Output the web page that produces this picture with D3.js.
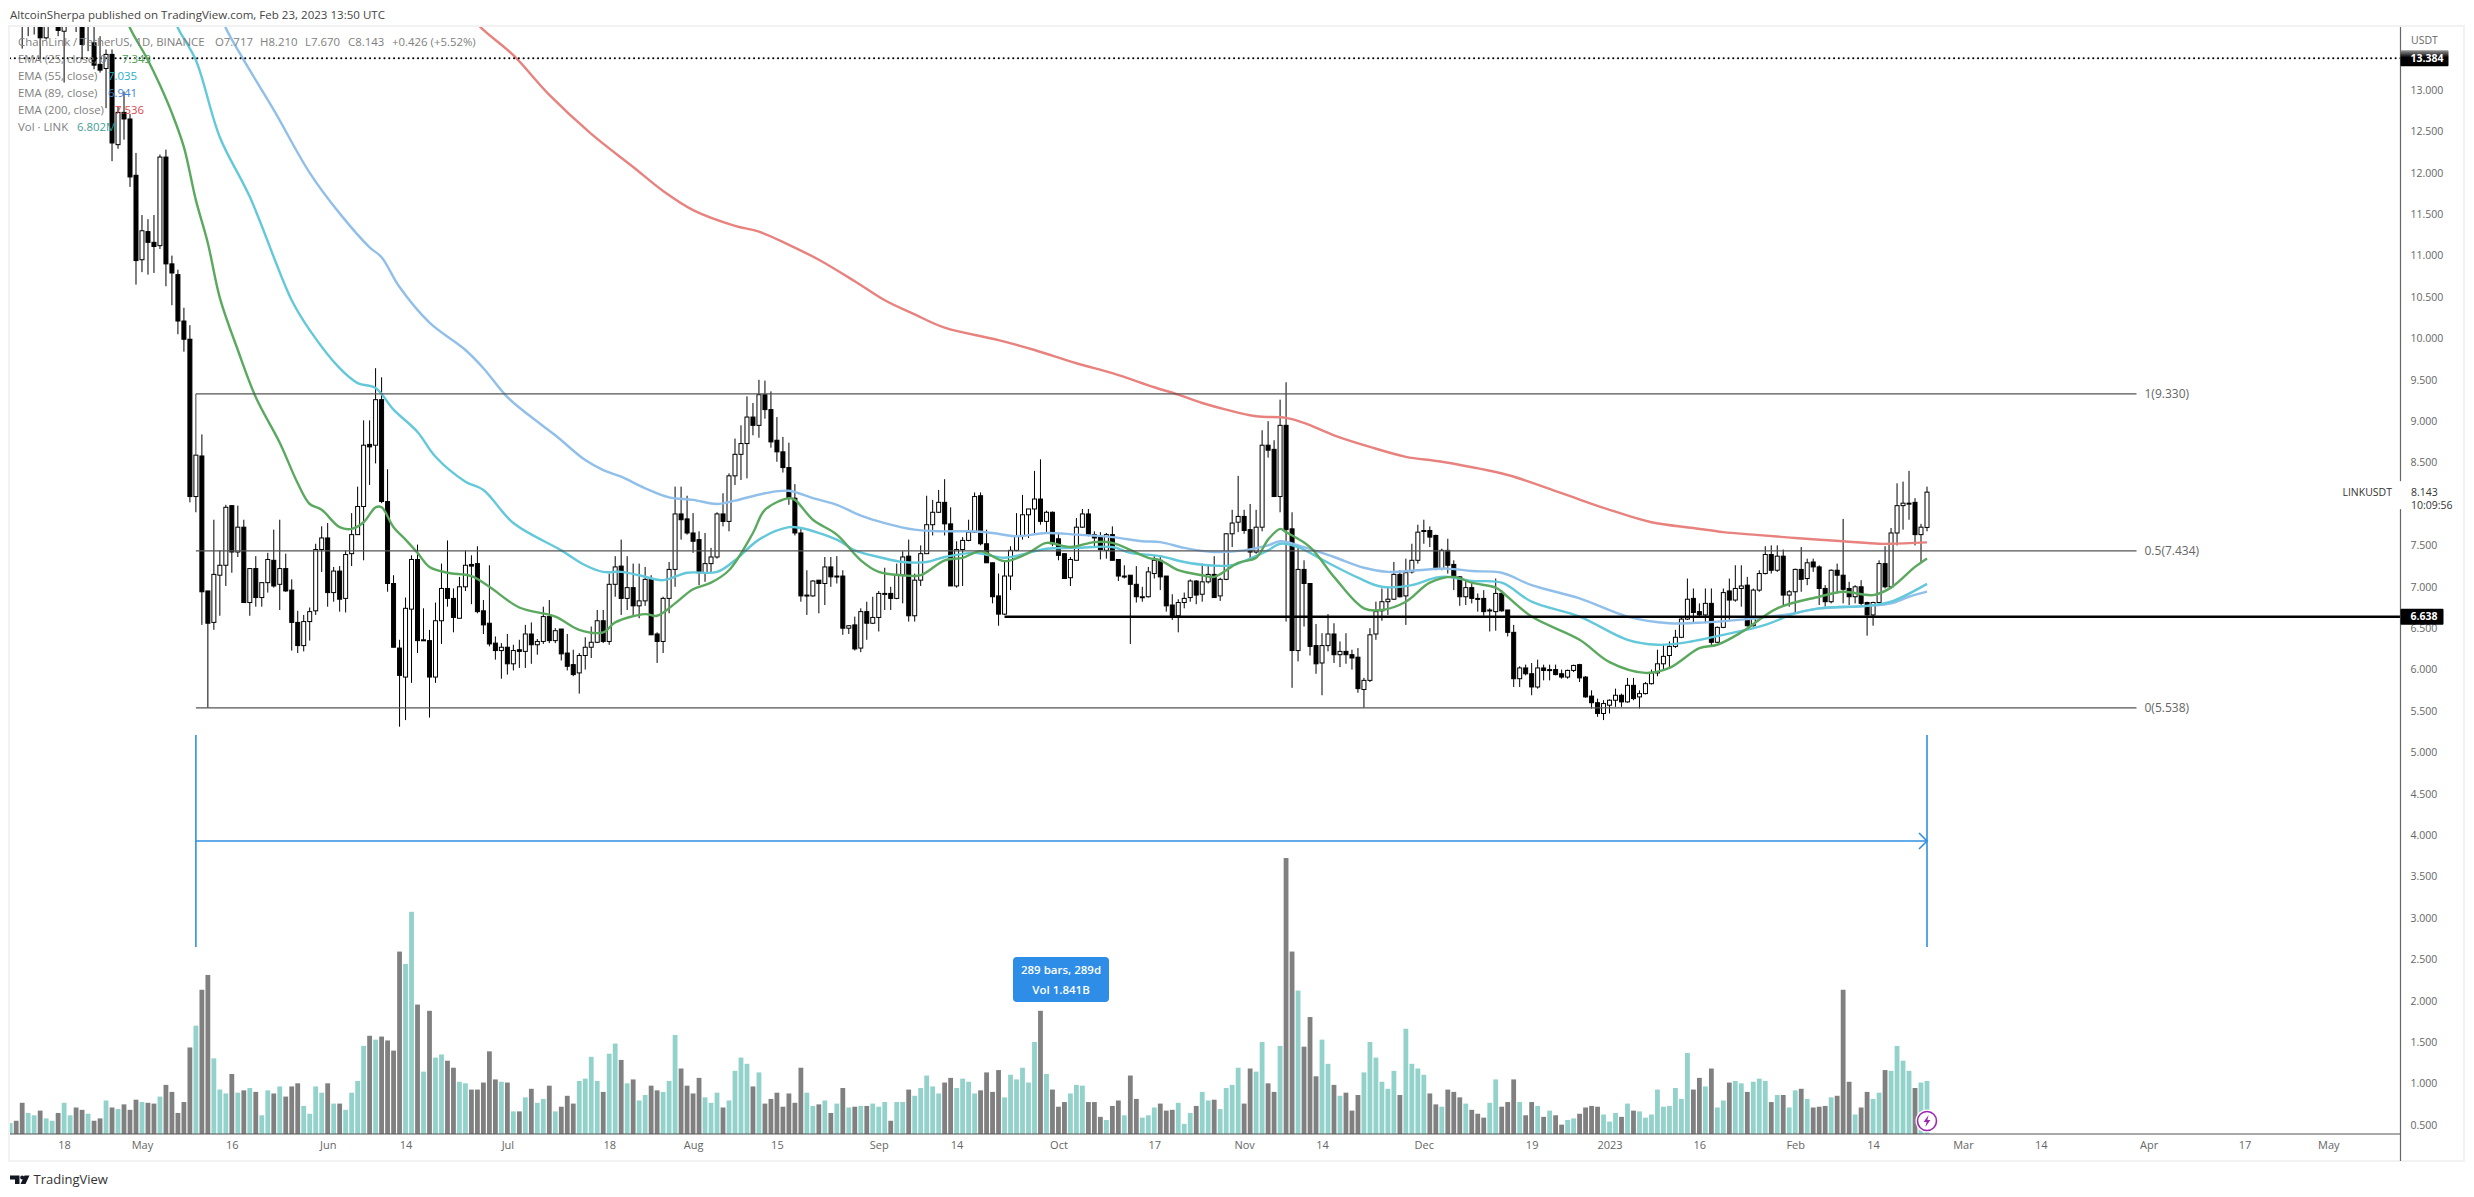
<!DOCTYPE html>
<html>
<head>
<meta charset="utf-8">
<script src="https://cdn.jsdelivr.net/npm/d3@7/dist/d3.min.js"></script>
<style>
  html, body { margin: 0; padding: 0; background: #fff; }
  svg { display: block; }
  text { font-family: "Open Sans", sans-serif; }
</style>
</head>
<body>
<div id="chart"></div>
<script>
// --- data, one entry per daily bar, first bar is 2022-04-09
const opens = [
  13.95,14.3,14.9,14.0,14.4,14.8,13.63,14.3,14.6,13.71, 14.2,14.5,14.2,13.8,13.57,13.31,13.26,13.43,12.34,12.73,
  12.65,11.97,10.95,11.29,11.16,11.12,12.19,10.90,10.77,10.21, 9.99,8.09,8.58,6.95,6.57,7.14,7.26,7.98,7.42,7.72,
  6.81,7.22,6.87,7.05,7.32,7.03,7.22,6.96,6.57,6.29, 6.58,6.71,7.45,7.59,6.93,7.19,6.86,7.40,7.63,7.97,
  8.72,8.71,9.26,8.03,7.04,6.26,5.91,6.73,7.33,6.35, 6.35,5.91,6.59,6.98,6.86,6.62,7.0,7.27,7.28,6.71,
  6.56,6.32,6.23,6.27,6.07,6.24,6.22,6.43,6.30,6.34, 6.64,6.35,6.49,6.20,6.06,5.96,6.17,6.27,6.33,6.59,
  6.34,7.03,7.25,6.86,6.99,6.77,6.83,7.09,6.43,6.34, 6.86,7.21,7.88,7.82,7.65,7.57,7.17,7.28,7.36,7.88,
  7.79,8.34,8.60,8.73,9.05,8.95,9.32,9.14,8.77,8.63, 8.44,8.07,7.65,6.89,6.89,7.08,7.04,7.24,7.12,7.13,
  6.50,6.54,6.26,6.70,6.56,6.63,6.91,6.92,6.86,7.14, 7.37,6.65,7.08,7.40,7.75,7.90,8.02,7.76,7.01,7.45,
  7.56,7.66,8.10,7.52,7.29,6.89,6.67,7.13,7.44,7.62, 7.87,7.94,8.06,7.79,7.90,7.58,7.40,7.11,7.32,7.72,
  7.88,7.63,7.60,7.44,7.63,7.33,7.13,7.14,7.03,6.88, 6.88,7.16,7.32,7.13,6.78,6.65,6.81,6.87,7.07,6.91,
  7.06,7.15,6.89,7.09,7.64,7.78,7.85,7.69,7.42,7.72, 8.71,8.66,8.09,8.95,7.70,6.23,7.21,7.04,6.29,6.08,
  6.29,6.43,6.18,6.22,6.18,6.15,5.76,5.87,6.43,6.71, 6.82,6.85,7.15,6.89,7.18,7.32,7.67,7.68,7.62,7.22,
  7.44,7.27,7.12,6.88,6.99,6.86,6.86,6.71,6.70,6.92, 6.72,6.45,5.89,6.02,5.95,5.79,6.02,5.99,6.0,5.95,
  5.91,5.99,6.06,5.91,5.68,5.60,5.47,5.57,5.63,5.69, 5.61,5.81,5.67,5.71,5.83,5.96,6.07,6.17,6.28,6.39,
  6.61,6.86,6.70,6.66,6.80,6.33,6.51,6.95,6.84,6.98, 7.02,6.53,6.96,7.16,7.39,7.20,7.37,6.90,6.94,7.21,
  7.10,7.30,7.24,6.98,6.82,7.20,7.14,6.98,6.88,7.0, 6.81,6.66,6.81,7.28,7.0,7.65,7.98,8.01,8.02,7.63,7.717
];
const highs = [
  14.4,14.4,15,14.6,14.9,15,14.5,14.8,14.9,14.4, 14.7,14.7,14.3,14.0,13.8,13.65,13.49,13.49,12.80,12.98,
  12.71,12.24,11.49,11.44,11.49,12.22,12.28,11.0,10.83,10.37, 10.16,8.59,8.84,6.95,7.81,7.44,7.99,7.98,7.98,7.81,
  7.22,7.37,7.05,7.41,7.69,7.81,7.40,7.09,6.71,6.66, 6.75,7.52,7.73,7.77,7.24,7.25,7.44,7.89,8.21,9.01,
  9.01,9.64,9.53,8.42,7.14,6.36,6.87,7.38,7.51,6.74, 6.48,6.81,7.28,7.56,6.98,7.12,7.44,7.38,7.49,6.84,
  7.26,6.40,6.32,6.43,6.30,6.36,6.54,6.57,6.37,6.76, 6.84,6.50,6.49,6.43,6.24,6.2,6.39,6.52,6.72,6.72,
  7.16,7.37,7.57,7.37,7.28,7.28,7.24,7.14,6.45,6.88, 7.3,8.21,8.21,8.10,7.89,7.67,7.65,7.47,7.90,8.13,
  8.37,8.79,8.95,9.30,9.22,9.50,9.49,9.36,9.05,8.81, 8.74,8.24,7.70,7.20,7.08,7.08,7.36,7.36,7.37,7.2,
  6.53,6.64,6.74,6.82,6.88,6.95,7.23,7.0,7.28,7.43, 7.57,7.16,7.50,8.10,8.05,8.17,8.30,7.96,7.55,7.6,
  7.81,8.14,8.14,7.69,7.29,7.16,7.3,7.49,7.89,8.11, 7.94,8.40,8.54,7.92,7.91,7.65,7.40,7.36,7.83,7.94,
  7.94,7.67,7.66,7.65,7.73,7.33,7.26,7.14,7.25,7.0, 7.24,7.37,7.36,7.13,6.91,6.85,6.93,7.09,7.08,7.28,
  7.26,7.37,7.11,7.65,7.93,8.34,7.93,8.0,7.93,8.89, 9.0,8.77,9.26,9.47,7.90,7.50,7.32,7.04,6.55,6.44,
  6.67,6.56,6.34,6.44,6.24,6.26,5.90,6.50,6.82,6.98, 7.0,7.30,7.2,7.34,7.52,7.75,7.81,7.73,7.63,7.46,
  7.58,7.32,7.13,7.08,7.08,6.92,6.96,6.74,7.10,6.96, 6.72,6.54,6.04,6.06,6.08,6.12,6.06,6.06,6.06,6.0,
  6.0,6.06,6.07,5.92,5.75,5.65,5.63,5.64,5.77,5.71, 5.90,5.90,5.75,5.85,6.0,6.24,6.30,6.34,6.48,6.63,
  7.10,6.98,6.80,6.98,6.98,6.52,6.98,7.10,7.26,7.26, 7.12,6.98,7.2,7.49,7.50,7.50,7.45,6.96,7.22,7.48,
  7.34,7.34,7.26,7.02,7.21,7.28,7.82,7.06,7.02,7.08, 6.82,6.82,7.32,7.49,7.71,8.25,8.27,8.40,8.07,7.76,8.21
];
const lows = [
  13.85,13.8,13.5,13.65,13.67,13.37,13.61,14.1,13.65,13.09, 14.0,13.70,13.37,13.47,13.25,13.21,12.78,12.14,12.29,12.40,
  11.83,10.65,10.80,10.77,10.79,11.08,10.63,10.40,10.05,9.84, 8.02,7.9,6.54,5.54,6.48,6.65,7.01,7.17,7.36,6.81,
  6.65,6.76,6.76,6.93,6.99,6.72,6.94,6.23,6.20,6.22, 6.35,6.66,7.18,6.76,6.82,6.70,6.69,7.25,7.63,7.32,
  8.23,8.49,8.01,6.94,6.27,5.31,5.39,5.84,6.20,6.35, 5.42,5.84,6.31,6.76,6.45,6.62,6.95,6.79,6.68,6.43,
  6.28,6.12,5.89,5.94,5.99,6.02,6.02,6.07,6.18,6.31, 6.32,6.32,6.11,5.99,5.92,5.71,6.0,6.14,6.32,6.32,
  6.3,6.88,6.66,6.72,6.65,6.62,6.77,6.42,6.08,6.20, 6.68,7.0,7.57,7.63,7.41,7.02,7.06,7.18,7.34,7.73,
  7.67,8.23,8.29,8.31,8.83,8.80,9.03,8.68,8.51,8.38, 7.99,7.62,6.82,6.66,6.88,6.68,6.78,7.0,7.04,6.42,
  6.43,6.23,6.21,6.36,6.55,6.46,6.72,6.72,6.85,6.8, 6.58,6.58,7.01,7.40,7.62,7.89,7.62,7.01,6.99,7.01,
  7.55,7.65,7.50,7.29,6.80,6.53,6.66,6.96,7.43,7.57, 7.59,7.65,7.75,7.65,7.49,7.32,7.10,7.01,7.32,7.71,
  7.61,7.49,7.33,7.34,7.32,7.07,7.10,6.31,6.81,6.82, 6.87,7.10,6.96,6.70,6.60,6.45,6.74,6.82,6.79,6.82,
  7.04,6.87,6.83,7.08,7.48,7.66,7.64,7.33,7.40,7.67, 8.56,8.09,7.90,6.58,5.78,6.10,6.52,6.17,5.95,5.69,
  6.22,6.08,6.03,6.07,6.0,5.72,5.54,5.85,6.36,6.59, 6.66,6.84,6.87,6.54,7.16,7.28,7.52,7.48,7.20,7.20,
  7.16,6.96,6.77,6.78,6.80,6.70,6.65,6.46,6.47,6.70, 6.40,5.79,5.79,5.93,5.69,5.77,5.87,5.87,5.93,5.89,
  5.89,5.97,5.85,5.66,5.53,5.43,5.39,5.47,5.55,5.55, 5.60,5.63,5.53,5.70,5.82,5.92,5.99,6.02,6.26,6.38,
  6.60,6.56,6.64,6.56,6.28,6.32,6.50,6.60,6.82,6.76, 6.52,6.52,6.94,7.15,7.16,7.18,6.76,6.76,6.68,6.94,
  7.02,7.18,6.78,6.76,6.80,6.92,6.80,6.78,6.80,6.78, 6.41,6.53,6.78,6.98,6.98,7.50,7.69,7.81,7.50,7.30,7.67
];
const closes = [
  14.3,14.0,14.0,14.4,14.8,13.63,14.3,14.6,13.72,14.2, 14.5,14.2,13.55,13.9,13.30,13.24,13.43,12.36,12.73,12.65,
  11.95,10.94,11.30,11.16,11.11,12.19,10.90,10.79,10.21,9.99, 8.09,8.59,6.94,6.56,7.15,7.26,7.96,7.42,7.72,6.81,
  7.22,6.87,7.05,7.33,7.01,7.22,6.95,6.57,6.29,6.58, 6.70,7.45,7.59,6.93,7.19,6.85,7.39,7.63,7.97,8.71,
  8.69,9.26,8.03,7.04,6.27,5.93,6.74,7.33,6.35,6.36, 5.91,6.59,6.98,6.86,6.63,7.0,7.26,7.25,6.70,6.54,
  6.31,6.23,6.27,6.07,6.23,6.22,6.43,6.30,6.34,6.64, 6.35,6.47,6.19,6.04,5.94,6.17,6.27,6.33,6.59,6.34,
  7.03,7.24,6.86,6.99,6.77,6.83,7.09,6.42,6.34,6.86, 7.21,7.88,7.81,7.65,7.55,7.17,7.28,7.36,7.88,7.79,
  8.34,8.60,8.73,9.05,8.95,9.32,9.14,8.75,8.63,8.44, 8.07,7.65,6.89,6.90,7.07,7.04,7.24,7.12,7.13,6.50,
  6.53,6.25,6.70,6.56,6.63,6.92,6.92,6.86,7.14,7.36, 6.65,7.08,7.40,7.75,7.90,8.02,7.76,7.01,7.45,7.56,
  7.66,8.09,7.52,7.29,6.88,6.67,7.13,7.44,7.62,7.87, 7.94,8.06,7.79,7.90,7.52,7.38,7.10,7.33,7.72,7.88,
  7.63,7.59,7.45,7.63,7.32,7.13,7.13,7.03,6.88,6.88, 7.18,7.32,7.12,6.77,6.63,6.81,6.86,7.07,6.90,7.06,
  7.15,6.87,7.09,7.64,7.77,7.85,7.68,7.42,7.72,8.71, 8.65,8.09,8.95,7.69,6.23,7.21,7.04,6.28,6.07,6.29,
  6.43,6.18,6.22,6.18,6.14,5.77,5.87,6.42,6.70,6.82, 6.85,7.15,6.88,7.17,7.32,7.66,7.68,7.60,7.22,7.44,
  7.26,7.11,6.88,6.99,6.86,6.85,6.70,6.72,6.92,6.71, 6.45,5.89,6.02,5.95,5.79,6.02,5.99,6.0,5.94,5.91,
  5.99,6.05,5.90,5.67,5.60,5.47,5.59,5.63,5.69,5.61, 5.81,5.65,5.71,5.83,5.96,6.07,6.16,6.28,6.39,6.61,
  6.85,6.69,6.66,6.80,6.33,6.51,6.93,6.84,6.98,7.01, 6.53,6.96,7.16,7.39,7.20,7.37,6.90,6.94,7.21,7.09,
  7.29,7.24,6.98,6.82,7.20,7.14,6.97,6.88,7.0,6.80, 6.66,6.81,7.28,7.0,7.65,7.98,8.01,8.01,7.63,7.72,8.143
];
// volume in millions of LINK
const volumes = [
  1.4,1.7,4.0,2.7,2.4,3.0,2.0,1.7,2.7,4.0, 2.4,3.4,3.1,2.6,1.7,2.0,4.3,3.4,3.2,3.8,
  3.1,4.4,4.1,4.0,3.9,4.8,6.3,5.4,2.7,4.1, 11.1,13.9,18.5,20.4,9.7,5.7,5.2,7.7,5.3,5.6,
  5.9,5.4,2.4,5.6,5.2,6.1,4.8,6.1,6.5,3.6, 2.6,6.1,5.3,6.5,3.9,3.9,3.1,5.3,6.8,11.3,
  12.6,12.1,12.5,12.0,10.7,23.4,21.8,28.5,16.6,8.0, 15.8,9.8,10.2,9.4,8.5,6.7,6.5,5.7,5.7,6.6,
  10.6,7.0,6.7,6.6,2.9,2.9,4.7,5.8,4.0,4.5, 6.2,2.9,3.5,4.9,3.9,6.8,7.1,9.9,6.8,5.4,
  10.3,11.6,9.5,6.5,7.0,4.3,5.0,6.2,5.6,5.4, 6.8,12.7,8.4,6.2,5.2,7.2,4.7,4.0,5.3,3.4,
  4.3,8.1,9.8,9.0,6.1,7.9,3.9,4.5,5.3,3.5, 5.2,4.0,8.5,5.3,3.6,3.8,4.3,2.7,3.9,5.9,
  3.4,3.5,3.6,3.6,3.9,3.5,4.1,1.7,4.1,4.1, 5.7,4.9,5.9,7.5,6.1,5.2,6.6,7.2,5.9,7.1,
  6.7,5.2,5.6,7.9,5.4,8.2,4.7,7.6,7.0,8.5, 6.6,11.8,15.8,7.7,5.7,3.5,4.1,5.2,6.3,6.2,
  4.1,4.1,2.2,1.8,3.6,4.3,2.4,7.5,4.5,2.1, 2.4,3.4,3.9,3.0,3.1,4.0,1.3,2.7,3.6,5.4,
  4.3,4.4,3.2,5.9,6.3,8.5,3.9,8.4,8.0,11.8, 6.5,5.4,11.3,35.4,23.4,18.4,11.2,15.0,7.4,12.1,
  9.0,6.3,4.9,5.3,3.0,5.0,7.9,11.8,9.8,6.7, 5.8,8.1,5.0,13.5,9.0,8.4,7.6,5.2,3.8,3.5,
  5.7,5.4,4.7,3.9,3.1,2.6,2.1,4.0,7.0,3.5, 4.1,7.0,4.1,2.4,4.1,3.6,2.2,3.0,2.4,1.2,
  1.8,2.0,2.6,3.4,3.6,3.5,2.5,1.6,2.7,2.2, 3.9,3.0,2.9,2.1,2.5,5.7,3.5,3.6,5.9,4.5,
  10.4,5.7,7.2,6.1,8.4,3.4,4.3,6.6,6.8,6.5, 5.4,6.7,7.1,6.8,4.1,5.0,5.0,3.4,5.6,5.8,
  4.5,3.4,3.5,3.6,4.7,4.9,18.5,6.7,2.5,3.4, 5.4,4.5,5.3,8.2,8.1,11.3,9.4,8.1,5.9,6.6,6.8
];

// moving averages, read at bar numbers, price at that bar
const ema25Bars = [19,20,23,25,27,29,31,33,35,38,41,45,48,50,52,55,57,59,61,62,64,66,68,70,73,77,80,85,91,95,99,101,106,108,111,114,117,120,124,126,130,131,134,138,142,145,149,152,156,159,162,166,170,173,177,181,184,190,192,195,199,201,205,208,210,212,213,217,221,226,229,233,237,241,244,248,249,254,262,267,273,277,282,285,289,295,302,306,311,314,318,320];
const ema25Vals = [13.95,13.75,13.36,13.06,12.72,12.31,11.67,11.15,10.49,9.86,9.29,8.74,8.25,8.0,7.93,7.72,7.70,7.78,7.96,7.96,7.72,7.57,7.41,7.24,7.17,7.13,7.0,6.75,6.64,6.48,6.45,6.57,6.67,6.65,6.80,6.97,7.05,7.20,7.65,7.93,8.07,8.05,7.81,7.63,7.32,7.18,7.14,7.14,7.32,7.35,7.43,7.31,7.41,7.53,7.48,7.54,7.53,7.35,7.32,7.20,7.14,7.12,7.29,7.35,7.57,7.70,7.66,7.48,7.12,6.74,6.72,6.82,7.05,7.12,7.05,6.99,6.94,6.64,6.36,6.09,5.96,6.02,6.26,6.30,6.45,6.74,6.88,6.94,6.90,6.99,7.24,7.343];
const ema55Bars = [27,28,31,35,40,47,50,55,58,61,64,68,71,76,79,84,92,96,99,102,105,109,113,118,121,125,130,132,138,141,145,149,153,156,161,166,170,173,178,184,187,192,196,200,204,206,210,212,215,220,225,229,234,238,240,244,249,254,262,270,275,279,286,293,298,302,310,314,320];
const ema55Vals = [13.95,13.75,13.36,12.43,11.71,10.46,10.10,9.64,9.46,9.40,9.14,8.87,8.57,8.27,8.17,7.77,7.44,7.26,7.18,7.18,7.14,7.08,7.17,7.18,7.32,7.57,7.72,7.71,7.57,7.44,7.36,7.30,7.30,7.36,7.41,7.35,7.41,7.46,7.47,7.48,7.41,7.37,7.30,7.26,7.26,7.31,7.44,7.52,7.48,7.29,7.11,7.0,7.02,7.11,7.12,7.07,7.05,6.82,6.64,6.36,6.30,6.32,6.42,6.54,6.68,6.74,6.77,6.82,7.035];
const ema89Bars = [35,36,39,44,50,55,60,62,65,70,76,79,83,87,91,96,99,102,106,110,114,118,121,126,130,134,138,142,146,151,155,160,164,168,173,178,184,189,192,196,201,206,210,212,216,221,226,230,235,240,244,249,254,262,270,277,283,290,297,302,310,314,317,320];
const ema89Vals = [13.95,13.75,13.36,12.76,12.0,11.51,11.10,10.98,10.62,10.19,9.86,9.64,9.29,9.05,8.83,8.53,8.41,8.33,8.19,8.08,8.05,8.0,8.04,8.13,8.16,8.07,7.99,7.86,7.77,7.69,7.67,7.67,7.65,7.61,7.65,7.63,7.60,7.55,7.54,7.47,7.42,7.44,7.50,7.55,7.48,7.36,7.23,7.18,7.20,7.22,7.19,7.17,7.02,6.86,6.64,6.56,6.57,6.61,6.67,6.74,6.77,6.80,6.88,6.941];
const ema200Bars = [77,78,84,90,97,104,109,114,121,125,130,135,141,146,151,156,165,171,178,184,191,195,199,203,208,213,216,221,227,233,239,250,259,267,274,281,286,291,298,306,312,314,320];
const ema200Vals = [13.95,13.80,13.42,12.94,12.47,12.07,11.78,11.55,11.36,11.29,11.13,10.95,10.69,10.46,10.29,10.13,9.98,9.86,9.70,9.58,9.41,9.32,9.22,9.14,9.06,9.04,8.98,8.83,8.69,8.57,8.51,8.35,8.13,7.93,7.78,7.71,7.66,7.63,7.59,7.55,7.52,7.52,7.536];
const emaColors = ['#5aa95f', '#62c8da', '#90bfea', '#e8827e'];

// axes
const priceTicks = [13,12.5,12,11.5,11,10.5,10,9.5,9,8.5,7.5,7,6.5,6,5.5,5,4.5,4,3.5,3,2.5,2,1.5,1,0.5];
const timeTickDates = ['2022-04-18','2022-05-01','2022-05-16','2022-06-01','2022-06-14','2022-07-01','2022-07-18','2022-08-01','2022-08-15','2022-09-01','2022-09-14','2022-10-01','2022-10-17','2022-11-01','2022-11-14','2022-12-01','2022-12-19','2023-01-01','2023-01-16','2023-02-01','2023-02-14','2023-03-01','2023-03-14','2023-04-01','2023-04-17','2023-05-01'];
const timeTickLabels = ['18','May','16','Jun','14','Jul','18','Aug','15','Sep','14','Oct','17','Nov','14','Dec','19','2023','16','Feb','14','Mar','14','Apr','17','May'];

// drawings
const fibLevels = [9.33, 7.434, 5.538];
const fibLabels = ['1(9.330)', '0.5(7.434)', '0(5.538)'];
const fibStartBar = 31;
const supportPrice = 6.638;
const supportStartBar = 166;
const highPrice = 13.384;
const rangeStartBar = 31;
const rangeEndBar = 320;
const rangePrices = [5.21, 3.93, 2.65];

// legend
const legendRows = ['EMA (25, close, 0)', 'EMA (55, close)', 'EMA (89, close)', 'EMA (200, close)', 'Vol · LINK'];
const legendValues = ['7.343', '7.035', '6.941', '7.536', '6.802M'];
const legendColors = ['#4f9e55', '#25aec8', '#3a84d8', '#e0484c', '#3f9e96'];
const ohlcTexts = ['O7.717', 'H8.210', 'L7.670', 'C8.143', '+0.426 (+5.52%)'];

// --- setup dimensions and constants
const width = 2474;
const height = 1197;
const plot = { left: 10, right: 2400.5, top: 27, bottom: 1134, frameRight: 2464, frameBottom: 1161 };
const textColor = '#666';

const dates = d3.utcDay.range(Date.UTC(2022, 3, 9), Date.UTC(2023, 1, 24));

// --- scales
const x = d3.scaleUtc()
  .domain([dates[0], dates[dates.length - 1]])
  .range([10.2, 1927]);
const y = d3.scaleLinear().domain([13, 0.5]).range([90, 1125]);
const yVol = d3.scaleLinear().domain([0, 35.4]).range([plot.bottom, 858]);

const svg = d3.select('#chart')
  .append('svg')
  .attr('width', width)
  .attr('height', height)
  .attr('viewBox', [0, 0, width, height]);

const defs = svg.append('defs');
defs.append('clipPath')
  .attr('id', 'plot-clip')
  .append('rect')
  .attr('x', plot.left)
  .attr('y', plot.top)
  .attr('width', plot.right - plot.left)
  .attr('height', plot.bottom - plot.top);

const tagFade = defs.append('linearGradient')
  .attr('id', 'tag-fade')
  .attr('x1', 0).attr('x2', 0).attr('y1', 0).attr('y2', 1);
tagFade.append('stop').attr('offset', '0%').style('stop-color', '#999');
tagFade.append('stop').attr('offset', '45%').style('stop-color', '#000');

svg.append('rect').attr('width', width).attr('height', height).attr('fill', '#fff');

// --- outer frame
svg.append('rect')
  .attr('x', plot.left - 1)
  .attr('y', plot.top - 1)
  .attr('width', plot.frameRight - plot.left + 1)
  .attr('height', plot.frameBottom - plot.top + 1)
  .attr('fill', 'none')
  .attr('stroke', '#f0f2f3')
  .attr('stroke-width', 2);

svg.append('text')
  .attr('x', 10)
  .attr('y', 19)
  .attr('font-size', 11.55)
  .attr('fill', '#444')
  .text('AltcoinSherpa published on TradingView.com, Feb 23, 2023 13:50 UTC');

const chart = svg.append('g').attr('clip-path', 'url(#plot-clip)');

const bars = dates.map((date, i) => ({
  date,
  open: opens[i],
  high: highs[i],
  low: lows[i],
  close: closes[i],
  volume: volumes[i],
  up: closes[i] >= opens[i]
}));

// --- volume
chart.append('g')
  .selectAll('rect')
  .data(bars)
  .join('rect')
    .attr('x', d => x(d.date) - 2.4)
    .attr('width', 4.8)
    .attr('y', d => yVol(d.volume))
    .attr('height', d => yVol(0) - yVol(d.volume))
    .attr('fill', d => d.up ? '#93d2ca' : '#808080');

// --- candles
const candles = chart.append('g').selectAll('g').data(bars).join('g');

candles.append('line')
  .attr('x1', d => x(d.date))
  .attr('x2', d => x(d.date))
  .attr('y1', d => y(d.high))
  .attr('y2', d => y(d.low))
  .attr('stroke', '#000')
  .attr('stroke-width', 1);

candles.append('rect')
  .attr('x', d => x(d.date) - 2)
  .attr('width', 4)
  .attr('y', d => y(Math.max(d.open, d.close)))
  .attr('height', d => Math.max(1, Math.abs(y(d.open) - y(d.close))))
  .attr('fill', d => d.up ? '#fff' : '#000')
  .attr('stroke', '#000')
  .attr('stroke-width', 1);

// --- moving averages
const emaLine = d3.line()
  .x(d => x(dates[d[0]]))
  .y(d => y(d[1]))
  .curve(d3.curveCatmullRom.alpha(0.5));

const emaSeries = [
  d3.zip(ema200Bars, ema200Vals),
  d3.zip(ema89Bars, ema89Vals),
  d3.zip(ema55Bars, ema55Vals),
  d3.zip(ema25Bars, ema25Vals)
];
const emaStroke = [emaColors[3], emaColors[2], emaColors[1], emaColors[0]];

chart.append('g')
  .selectAll('path')
  .data(emaSeries)
  .join('path')
    .attr('d', emaLine)
    .attr('fill', 'none')
    .attr('stroke', (_, i) => emaStroke[i])
    .attr('stroke-width', 2.4);

// --- fib retracement
const fibEndX = 2136.5;
const fibX = x(dates[fibStartBar]);

chart.append('g')
  .selectAll('line')
  .data(fibLevels)
  .join('line')
    .attr('x1', fibX)
    .attr('x2', fibEndX)
    .attr('y1', d => y(d))
    .attr('y2', d => y(d))
    .attr('stroke', '#555')
    .attr('stroke-width', 1.2);

chart.append('line')
  .attr('x1', fibX)
  .attr('x2', fibX)
  .attr('y1', y(fibLevels[0]))
  .attr('y2', y(closes[fibStartBar]))
  .attr('stroke', '#444')
  .attr('stroke-width', 1);

svg.append('g')
  .selectAll('text')
  .data(fibLevels)
  .join('text')
    .attr('x', fibEndX + 8)
    .attr('y', d => y(d))
    .attr('dy', '0.35em')
    .attr('font-size', 12)
    .attr('fill', '#666')
    .text((_, i) => fibLabels[i]);

// --- horizontal levels
chart.append('line')
  .attr('x1', plot.left)
  .attr('x2', plot.right)
  .attr('y1', y(highPrice))
  .attr('y2', y(highPrice))
  .attr('stroke', '#000')
  .attr('stroke-width', 2)
  .attr('stroke-linecap', 'round')
  .attr('stroke-dasharray', '0.1 4.7');

chart.append('line')
  .attr('x1', x(dates[supportStartBar]))
  .attr('x2', plot.right)
  .attr('y1', y(supportPrice))
  .attr('y2', y(supportPrice))
  .attr('stroke', '#000')
  .attr('stroke-width', 2.6);

// --- date range measure
const rangeColor = '#2f8fe2';
const rangeX0 = x(dates[rangeStartBar]);
const rangeX1 = x(dates[rangeEndBar]);
const rangeMeasure = svg.append('g')
  .attr('stroke', rangeColor)
  .attr('stroke-width', 1.6)
  .attr('fill', 'none');

rangeMeasure.selectAll('line.edge')
  .data([rangeX0, rangeX1])
  .join('line')
    .attr('class', 'edge')
    .attr('x1', d => d)
    .attr('x2', d => d)
    .attr('y1', y(rangePrices[0]))
    .attr('y2', y(rangePrices[2]));

rangeMeasure.append('line')
  .attr('x1', rangeX0)
  .attr('x2', rangeX1)
  .attr('y1', y(rangePrices[1]))
  .attr('y2', y(rangePrices[1]));

rangeMeasure.append('path')
  .attr('d', d3.line()([[rangeX1 - 8, y(rangePrices[1]) - 8], [rangeX1, y(rangePrices[1])], [rangeX1 - 8, y(rangePrices[1]) + 8]]));

const rangeBox = svg.append('g').attr('transform', 'translate(1061 979.5)');
rangeBox.append('rect')
  .attr('x', -48)
  .attr('y', -22.5)
  .attr('width', 96)
  .attr('height', 45)
  .attr('rx', 4)
  .attr('fill', '#2e8de6');
rangeBox.selectAll('text')
  .data(['289 bars, 289d', 'Vol 1.841B'])
  .join('text')
    .attr('text-anchor', 'middle')
    .attr('y', (_, i) => i === 0 ? -10 : 10)
    .attr('dy', '0.35em')
    .attr('font-size', 11.5)
    .attr('font-weight', 600)
    .attr('fill', '#fff')
    .text(d => d);

// --- earnings style icon on the last bar
const bolt = svg.append('g')
  .attr('transform', `translate(${x(dates[dates.length - 1])} 1121)`);
bolt.append('circle').attr('r', 11.5).attr('fill', '#fff');
bolt.append('circle')
  .attr('r', 9.5)
  .attr('fill', '#fff')
  .attr('stroke', '#9c27b0')
  .attr('stroke-width', 1.6);
bolt.append('path')
  .attr('d', 'M1.6-6L-3.4 1H-.4L-1.6 6L3.4-1H.4Z')
  .attr('fill', '#9c27b0');

// --- time axis
const timeAxis = d3.axisBottom(x)
  .tickValues(timeTickDates.map(d => new Date(d + 'T00:00:00Z')))
  .tickFormat((_, i) => timeTickLabels[i])
  .tickSize(0)
  .tickPadding(7);

const timeG = svg.append('g')
  .attr('transform', `translate(0 ${plot.bottom})`)
  .call(timeAxis);
timeG.select('.domain').remove();
timeG.selectAll('text')
  .attr('font-family', '"Open Sans", sans-serif')
  .attr('font-size', 11)
  .attr('fill', textColor);

svg.append('line')
  .attr('x1', plot.left)
  .attr('x2', plot.right)
  .attr('y1', plot.bottom)
  .attr('y2', plot.bottom)
  .attr('stroke', '#555')
  .attr('stroke-width', 1.2);

// --- price axis
svg.append('line')
  .attr('x1', plot.right)
  .attr('x2', plot.right)
  .attr('y1', plot.top)
  .attr('y2', plot.frameBottom)
  .attr('stroke', '#666')
  .attr('stroke-width', 1.2);

const priceAxis = d3.axisRight(y)
  .tickValues(priceTicks)
  .tickFormat(d3.format('.3f'))
  .tickSize(0)
  .tickPadding(10);

const priceG = svg.append('g')
  .attr('transform', `translate(${plot.right} 0)`)
  .call(priceAxis);
priceG.select('.domain').remove();
priceG.selectAll('text')
  .attr('font-family', '"Open Sans", sans-serif')
  .attr('font-size', 10.5)
  .attr('fill', textColor);

svg.append('text')
  .attr('x', 2411)
  .attr('y', 44)
  .attr('font-size', 10.5)
  .attr('fill', textColor)
  .text('USDT');

// --- price tags
const tags = [
  { price: highPrice, width: 48, fill: 'url(#tag-fade)' },
  { price: supportPrice, width: 43, fill: '#000' }
];
const tagG = svg.append('g').selectAll('g').data(tags).join('g')
  .attr('transform', d => `translate(${plot.right} ${y(d.price)})`);
tagG.append('rect')
  .attr('y', -8)
  .attr('width', d => d.width)
  .attr('height', 16)
  .attr('rx', 1)
  .attr('fill', d => d.fill);
tagG.append('text')
  .attr('x', 10)
  .attr('dy', '0.35em')
  .attr('font-size', 10.5)
  .attr('font-weight', 700)
  .attr('fill', '#fff')
  .text(d => d3.format('.3f')(d.price));

// --- last price label
const lastY = y(closes[closes.length - 1]);
svg.append('rect')
  .attr('x', 2340)
  .attr('y', lastY - 11)
  .attr('width', 90)
  .attr('height', 28)
  .attr('fill', '#fff');
svg.append('text')
  .attr('x', 2392)
  .attr('y', lastY)
  .attr('dy', '0.35em')
  .attr('text-anchor', 'end')
  .attr('font-size', 10.5)
  .attr('fill', '#333')
  .text('LINKUSDT');
svg.append('text')
  .attr('x', 2411)
  .attr('y', lastY)
  .attr('dy', '0.35em')
  .attr('font-size', 10.5)
  .attr('fill', '#333')
  .text('8.143');
svg.append('text')
  .attr('x', 2411)
  .attr('y', lastY + 13)
  .attr('dy', '0.35em')
  .attr('font-size', 10.5)
  .attr('fill', '#333')
  .text('10:09:56');

// --- legend
const legend = svg.append('g').attr('font-size', 11.4).attr('fill', '#808080');

legend.append('text')
  .attr('x', 18)
  .attr('y', 46)
  .text('ChainLink / TetherUS, 1D, BINANCE');

legend.selectAll('text.ohlc')
  .data(ohlcTexts)
  .join('text')
    .attr('class', 'ohlc')
    .attr('x', (_, i) => [215, 260, 305, 348, 392][i])
    .attr('y', 46)
    .text(d => d);

legend.selectAll('text.row')
  .data(legendRows)
  .join('text')
    .attr('class', 'row')
    .attr('x', 18)
    .attr('y', (_, i) => 63 + i * 17)
    .text(d => d);

legend.selectAll('text.val')
  .data(legendValues)
  .join('text')
    .attr('class', 'val')
    .attr('x', (_, i) => [122, 108, 108, 115, 77][i])
    .attr('y', (_, i) => 63 + i * 17)
    .attr('fill', (_, i) => legendColors[i])
    .text(d => d);

// --- logo
const logo = svg.append('g').attr('fill', '#131722');
logo.append('path').attr('d', 'M10 1175.5H19.5V1184H15V1179.5H10Z');
logo.append('circle').attr('cx', 22.2).attr('cy', 1177.6).attr('r', 2);
logo.append('path').attr('d', 'M24.5 1175.5H29.5L25.5 1184H20.5Z');
svg.append('text')
  .attr('x', 33.5)
  .attr('y', 1184)
  .attr('font-size', 13)
  .attr('fill', '#333')
  .text('TradingView');
</script>
</body>
</html>
